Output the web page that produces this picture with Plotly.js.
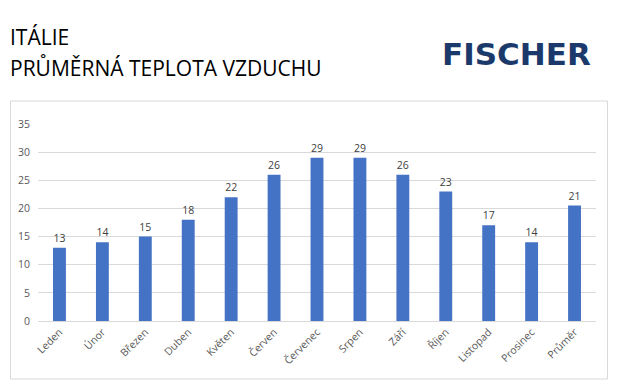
<!DOCTYPE html>
<html><head><meta charset="utf-8">
<script src="https://cdn.plot.ly/plotly-3.0.1.min.js"></script>
<style>html,body{margin:0;padding:0;background:#fff}#c{width:619px;height:387px}</style>
</head><body><div id="c"></div>
<script>
const months = ["Leden","Únor","Březen","Duben","Květen","Červen","Červenec","Srpen","Září","Říjen","Listopad","Prosinec","Průměr"];
const temps = [13,14,15,18,22,26,29,29,26,23,17,14,20.5];
const yTicks = [0,5,10,15,20,25,30,35];
const titleLines = ["ITÁLIE","PRŮMĚRNÁ TEPLOTA VZDUCHU"];
const logoText = "FISCHER";

const trace = {
  type:'bar', x:months, y:temps,
  marker:{color:'#4472c4'},
  texttemplate:'%{y:.0f}', textposition:'outside', cliponaxis:false,
  textfont:{family:'Open Sans, sans-serif', size:10.5, color:'#404040'},
  hoverinfo:'none'
};
const layout = {
  width:619, height:387,
  margin:{l:37.5, r:22.5, t:124, b:66},
  paper_bgcolor:'#fff', plot_bgcolor:'#fff',
  showlegend:false, bargap:0.7,
  font:{family:'Open Sans, sans-serif'},
  xaxis:{type:'category', tickangle:-45, showgrid:false, showline:true, linecolor:'#d9d9d9', linewidth:1,
    ticks:'', tickfont:{size:10.5, color:'#595959'}, fixedrange:true, automargin:false},
  yaxis:{range:[0,35], tickvals:yTicks, showgrid:true, gridcolor:'#d9d9d9', zeroline:false,
    ticks:'', ticklen:0, tickfont:{size:10.5, color:'#595959'}, ticklabelstandoff:7, automargin:false},
  shapes:[{type:'rect', xref:'paper', yref:'paper', x0:(10-37.5)/559, x1:(608-37.5)/559,
    y0:(387-66-379)/197, y1:(387-66-101)/197, line:{color:'#d9d9d9', width:1}, fillcolor:'rgba(0,0,0,0)', layer:'below'}],
  annotations:[
    {text:titleLines[0], xref:'paper', yref:'paper', x:(7-37.5)/559, y:(321-37.5)/197, xanchor:'left', yanchor:'middle',
      showarrow:false, font:{family:'Open Sans, sans-serif', size:21, color:'#000'}},
    {text:titleLines[1], xref:'paper', yref:'paper', x:(7-37.5)/559, y:(321-67.5)/197, xanchor:'left', yanchor:'middle',
      showarrow:false, font:{family:'Open Sans, sans-serif', size:21, color:'#000'}},
    {text:'<b>'+logoText+'</b>', xref:'paper', yref:'paper', x:(517-37.5)/559, y:(321-54)/197, xanchor:'center', yanchor:'middle',
      showarrow:false, font:{family:'DejaVu Sans, sans-serif', size:31, color:'#1b3a6b', weight:700}}
  ]
};
Plotly.newPlot('c',[trace],layout,{staticPlot:true});
</script></body></html>
